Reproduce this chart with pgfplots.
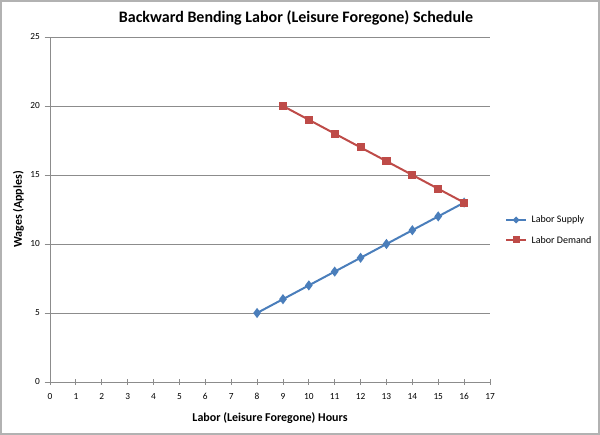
\documentclass[border=0pt]{standalone}
\usepackage{pgfplots}
\pgfplotsset{compat=1.18}
\usepackage{fontspec}
\setmainfont{Carlito}
\definecolor{sblue}{HTML}{4A7EBB}
\definecolor{sred}{HTML}{BE4B48}
\definecolor{gridc}{HTML}{8C8C8C}
\begin{document}
\begin{tikzpicture}[x=0.75pt,y=0.75pt]
\path[use as bounding box] (0,0) rectangle (600,435);
\draw[gray!60, line width=0.9pt] (1,1) rectangle (599,434);
\begin{axis}[
  at={(37.5pt,39.75pt)}, anchor=south west,
  scale only axis, width=330pt, height=258.75pt,
  xmin=0, xmax=17, ymin=0, ymax=25,
  xtick={0,...,17}, ytick={0,5,...,25},
  axis x line*=bottom, axis y line*=left,
  axis line style={gridc, line width=0.6pt, -},
  ymajorgrids, major grid style={gridc, line width=0.6pt},
  tick style={gridc, line width=0.6pt},
  xtick align=center, ytick align=outside,
  major tick length=4pt,
  tick label style={font=\fontsize{7}{8}\selectfont},
  /pgf/number format/assume math mode=true,
  xticklabel style={yshift=-3pt},
  xlabel={\bfseries Labor (Leisure Foregone) Hours},
  ylabel={\bfseries Wages (Apples)},
  label style={font=\fontsize{9}{10}\selectfont},
  xlabel style={yshift=-3pt},
  ylabel style={yshift=-2pt},
  clip=false,
]
\addplot[sblue, line width=1.5pt, mark=diamond*, mark size=2.6pt, mark options={solid}]
coordinates {(8,5)(9,6)(10,7)(11,8)(12,9)(13,10)(14,11)(15,12)(16,13)};
\addplot[sred, line width=1.5pt, mark=square*, mark size=2.3pt]
coordinates {(9,20)(10,19)(11,18)(12,17)(13,16)(14,15)(15,14)(16,13)};
\end{axis}
\node[font=\fontsize{12}{14}\selectfont\bfseries] at (296,417) {Backward Bending Labor (Leisure Foregone) Schedule};
% legend
\draw[sblue, line width=1.5pt] (506,215) -- (526,215);
\path[fill=sblue] (516,218.5) -- (519.5,215) -- (516,211.5) -- (512.5,215) -- cycle;
\node[anchor=west, font=\fontsize{7.5}{9}\selectfont] at (527,215) {Labor Supply};
\draw[sred, line width=1.5pt] (506,195) -- (526,195);
\fill[sred] (512.5,191.5) rectangle (519.5,198.5);
\node[anchor=west, font=\fontsize{7.5}{9}\selectfont] at (527,195) {Labor Demand};
\end{tikzpicture}
\end{document}
